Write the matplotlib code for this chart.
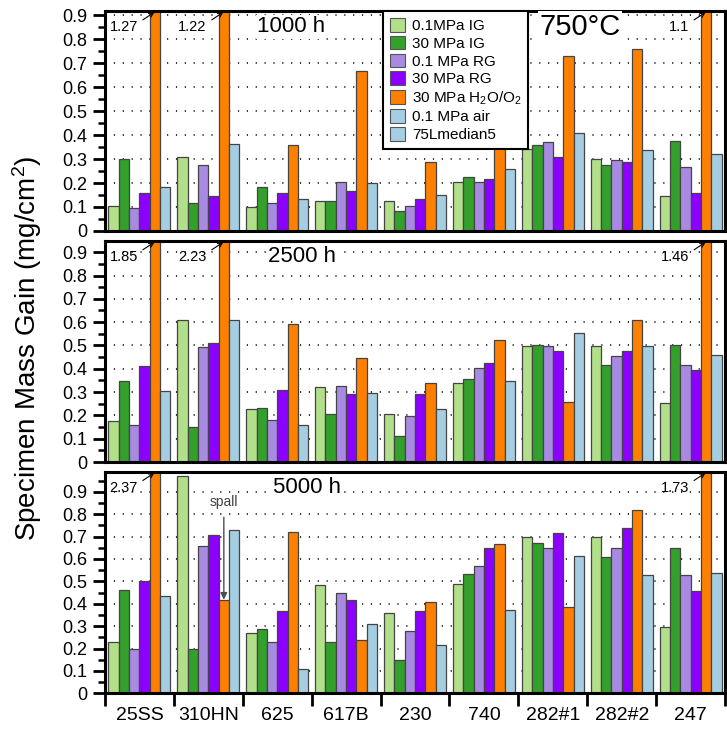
import numpy as np
import matplotlib
matplotlib.use('Agg')
import matplotlib.pyplot as plt
from matplotlib.patches import Patch
from matplotlib.ticker import MultipleLocator, FuncFormatter

plt.rcParams['font.family'] = ['Liberation Sans', 'DejaVu Sans']
plt.rcParams['mathtext.default'] = 'regular'

alloys = ['25SS', '310HN', '625', '617B', '230', '740', '282#1', '282#2', '247']
series = ['0.1MPa IG', '30 MPa IG', '0.1 MPa RG', '30 MPa RG',
          '30 MPa H$_2$O/O$_2$', '0.1 MPa air', '75Lmedian5']
colors = ['#b2df8a', '#33a02c', '#a98ae2', '#8b00ff', '#ff8000', '#a6cee3', '#a6cee3']
times = ['1000 h', '2500 h', '5000 h']

# mass gain (mg/cm2) after 1000 h
h1000_ig01 = [0.105, 0.31, 0.10, 0.125, 0.125, 0.205, 0.34, 0.30, 0.145]
h1000_ig30 = [0.30, 0.115, 0.185, 0.125, 0.085, 0.225, 0.357, 0.277, 0.377]
h1000_rg01 = [0.095, 0.277, 0.115, 0.205, 0.105, 0.205, 0.372, 0.297, 0.267]
h1000_rg30 = [0.157, 0.145, 0.157, 0.165, 0.135, 0.217, 0.307, 0.287, 0.157]
h1000_h2o = [1.27, 1.22, 0.357, 0.668, 0.287, 0.45, 0.728, 0.758, 1.1]
h1000_air = [0.185, 0.362, 0.135, 0.202, 0.152, 0.257, 0.407, 0.337, 0.322]

# after 2500 h
h2500_ig01 = [0.177, 0.609, 0.229, 0.323, 0.207, 0.337, 0.499, 0.499, 0.253]
h2500_ig30 = [0.349, 0.151, 0.233, 0.207, 0.113, 0.357, 0.504, 0.417, 0.503]
h2500_rg01 = [0.157, 0.493, 0.181, 0.327, 0.197, 0.403, 0.499, 0.453, 0.417]
h2500_rg30 = [0.413, 0.509, 0.307, 0.293, 0.293, 0.423, 0.477, 0.477, 0.393]
h2500_h2o = [1.85, 2.23, 0.593, 0.447, 0.337, 0.523, 0.257, 0.609, 1.46]
h2500_air = [0.303, 0.609, 0.157, 0.297, 0.229, 0.349, 0.553, 0.499, 0.459]

# after 5000 h
h5000_ig01 = [0.228, 0.969, 0.268, 0.484, 0.357, 0.488, 0.699, 0.699, 0.298]
h5000_ig30 = [0.463, 0.198, 0.287, 0.228, 0.147, 0.534, 0.673, 0.609, 0.647]
h5000_rg01 = [0.198, 0.659, 0.228, 0.448, 0.277, 0.568, 0.647, 0.647, 0.528]
h5000_rg30 = [0.501, 0.708, 0.369, 0.418, 0.368, 0.647, 0.717, 0.740, 0.457]
h5000_h2o = [2.37, 0.418, 0.719, 0.238, 0.408, 0.667, 0.387, 0.818, 1.73]
h5000_air = [0.433, 0.728, 0.107, 0.308, 0.216, 0.372, 0.615, 0.528, 0.539]

panels = [
    [h1000_ig01, h1000_ig30, h1000_rg01, h1000_rg30, h1000_h2o, h1000_air],
    [h2500_ig01, h2500_ig30, h2500_rg01, h2500_rg30, h2500_h2o, h2500_air],
    [h5000_ig01, h5000_ig30, h5000_rg01, h5000_rg30, h5000_h2o, h5000_air],
]
ytops = [0.917, 0.948, 0.99]
boxes = [[0.1444, 0.6849, 0.853, 0.300],
         [0.1444, 0.3697, 0.853, 0.3015],
         [0.1444, 0.0542, 0.853, 0.3023]]
title_x = [0.30, 0.318, 0.325]

fig = plt.figure(figsize=(7.27, 7.33), dpi=100)
x = np.arange(len(alloys))
bw = 0.15

for p in range(3):
    ax = fig.add_axes(boxes[p])
    top = ytops[p]
    for j, vals in enumerate(panels[p]):
        ax.bar(x + 0.05 + j * bw, vals, bw, align='edge', color=colors[j],
               edgecolor='#444444', linewidth=0.9, zorder=2)
        # off-scale bars get their value written beside them
        for i, v in enumerate(vals):
            if v > top:
                ax.annotate(f'{v:g}', xy=(i + 0.05 + (j + 0.45) * bw, top * 0.995),
                            xytext=(-12, -11), textcoords='offset points',
                            ha='right', va='center', fontsize=10.5, zorder=5,
                            annotation_clip=False,
                            arrowprops=dict(arrowstyle='->', lw=0.8, color='k',
                                            mutation_scale=8, relpos=(1.0, 0.8),
                                            shrinkA=2, shrinkB=0))
    ax.set_xlim(0, len(alloys))
    ax.set_ylim(0, top)
    ax.yaxis.set_major_locator(MultipleLocator(0.1))
    ax.yaxis.set_minor_locator(MultipleLocator(0.05))
    ax.yaxis.set_major_formatter(FuncFormatter(lambda v, pos: f'{v:.1f}' if v > 0.01 else '0'))
    for yv in np.arange(0.1, 0.95, 0.1):
        ax.axhline(yv, color='k', lw=1.1, ls=(0, (0.8, 5)), zorder=1)
    ax.tick_params(axis='y', which='major', direction='out', length=9, width=2,
                   labelsize=13, pad=4)
    ax.tick_params(axis='y', which='minor', direction='out', length=5, width=1.8)
    for s in ax.spines.values():
        s.set_linewidth(2.2)
    ax.text(title_x[p], 0.928, times[p], transform=ax.transAxes, fontsize=16,
            ha='center', va='center', zorder=3,
            bbox=dict(facecolor='white', edgecolor='none', pad=1))
    if p < 2:
        ax.set_xticks([])
    else:
        ax.set_xticks(np.arange(len(alloys) + 1))
        ax.set_xticklabels([])
        ax.set_xticks(x + 0.5, alloys, minor=True)
        ax.tick_params(axis='x', which='major', direction='out', length=9, width=2)
        ax.tick_params(axis='x', which='minor', length=0, labelsize=14, pad=10)
        # spalled sample marker on 310HN
        ax.annotate('spall', xy=(1 + 0.05 + 4.5 * bw, h5000_h2o[1]),
                    xytext=(1 + 0.05 + 4.5 * bw, 0.855), ha='center', va='center',
                    fontsize=10, color='0.25',
                    arrowprops=dict(arrowstyle='-|>', lw=1.0, color='0.3',
                                    mutation_scale=10, shrinkA=4, shrinkB=0))
    if p == 0:
        handles = [Patch(facecolor=c, edgecolor='#555555', lw=0.8) for c in colors]
        ax.legend(handles, series, loc='upper left', bbox_to_anchor=(0.448, 1.0),
                  fontsize=11, frameon=True, fancybox=False, edgecolor='k',
                  framealpha=1, borderpad=0.45, labelspacing=0.18, handlelength=1.0,
                  handleheight=1.0, handletextpad=0.45, borderaxespad=0.0
                  ).get_frame().set_linewidth(1.5)
        ax.text(0.766, 0.928, '750°C', transform=ax.transAxes, fontsize=21,
                ha='center', va='center', zorder=3,
                bbox=dict(facecolor='white', edgecolor='none', pad=1))

fig.text(0.037, 0.525, 'Specimen Mass Gain (mg/cm$^2$)', rotation=90,
         ha='center', va='center', fontsize=20)

fig.savefig('out.png', dpi=100)
